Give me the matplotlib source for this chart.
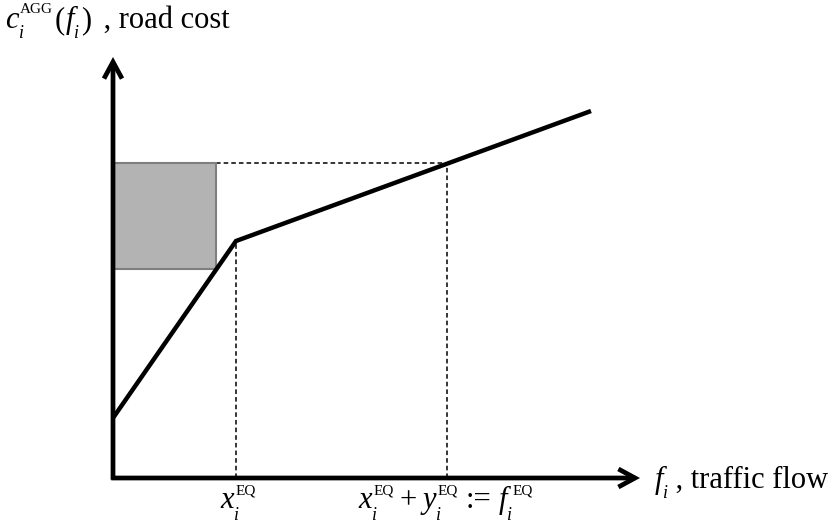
import matplotlib
matplotlib.use("Agg")
import matplotlib.pyplot as plt
from matplotlib.patches import Rectangle
from matplotlib.transforms import offset_copy

plt.rcParams["font.family"] = ["Liberation Serif", "DejaVu Serif"]

# -------------------------------------------------
# DATA (origin of the diagram at 0,0)
# -------------------------------------------------
cost_x = [0, 123, 478]
cost_y = [60, 237, 367]

x_eq = 123          # x_i^EQ
f_eq = 334          # x_i^EQ + y_i^EQ
c_eq = 237          # cost at the kink
c_f = 315           # cost at f_i^EQ

rect_x = [0, 103]
rect_y = [209, 315]

axis_x_end = 527
axis_y_end = 421

FS = 22     # main text size
SUP = 11    # superscript size
SUB = 13    # subscript size

# label pieces: (text, size, raise_pt, style, gap_pt, advance)
ylabel = [("c", FS, 0, "italic", 0, True),
          ("AGG", SUP, 11, "normal", 1, False),
          ("i", SUB, -7, "italic", 0, True),
          ("(", FS, 0, "normal", 1, True),
          ("f", FS, 0, "italic", 1, True),
          ("i", SUB, -7, "italic", 0, True),
          (")", FS, 0, "normal", 1, True),
          (" , road cost", FS, 0, "normal", 4, True)]

xlabel = [("f", FS, 0, "italic", 0, True),
          ("i", SUB, -7, "italic", 0, True),
          (" , traffic flow", FS, 0, "normal", 0, True)]

tick_x_eq = [("x", FS, 0, "italic", 0, True),
             ("EQ", SUP, 10, "normal", 1, False),
             ("i", SUB, -8.5, "italic", 0, True)]

tick_f_eq = [("x", FS, 0, "italic", 0, True),
             ("EQ", SUP, 10, "normal", 1, False),
             ("i", SUB, -8.5, "italic", 0, True),
             ("+", FS, 0, "normal", 4, True),
             ("y", FS, 0, "italic", 4, True),
             ("EQ", SUP, 10, "normal", 1, False),
             ("i", SUB, -8.5, "italic", 0, True),
             (":=", FS, 0, "normal", 6, True),
             ("f", FS, 0, "italic", 5, True),
             ("EQ", SUP, 10, "normal", 4, False),
             ("i", SUB, -8.5, "italic", 0, True)]


def place_label(ax, x, y, pieces, center=False):
    fig = ax.figure
    renderer = fig.canvas.get_renderer()
    items = []
    cursor = 0.0
    group_start = 0.0
    group_end = 0.0
    for s, size, dy, style, gap, adv in pieces:
        start = group_start + gap if group_end > group_start else cursor + gap
        if group_end <= group_start:
            group_start = cursor
        t = ax.text(x, y, s, fontsize=size, style=style, ha="left",
                    va="baseline", color="black")
        t.set_transform(offset_copy(ax.transData, fig=fig, x=start, y=dy,
                                    units="points"))
        w = t.get_window_extent(renderer).width * 72.0 / fig.dpi
        items.append((t, start, dy))
        group_end = max(group_end, start + w)
        if adv:
            cursor = group_end
            group_start = cursor
            group_end = cursor
        else:
            group_end = max(group_end, group_start + 1e-6)
    if center:
        shift = -cursor / 2.0
        for t, start, dy in items:
            t.set_transform(offset_copy(ax.transData, fig=fig, x=start + shift,
                                        y=dy, units="points"))


# -------------------------------------------------
# FIGURE
# -------------------------------------------------
fig = plt.figure(figsize=(8.29, 5.30), dpi=100)
ax = fig.add_axes([0, 0, 1, 1])
ax.set_xlim(-113, 716)
ax.set_ylim(-52, 478)
ax.axis("off")

# shaded box
ax.add_patch(Rectangle((rect_x[0], rect_y[0]), rect_x[1] - rect_x[0],
                       rect_y[1] - rect_y[0], facecolor="#b3b3b3",
                       edgecolor="#7f7f7f", linewidth=1.5, zorder=2))

# dashed helper lines
dash = dict(ls=(0, (3, 2)), color="black", lw=1.1, zorder=1)
ax.plot([rect_x[1], f_eq], [c_f, c_f], **dash)
ax.plot([f_eq, f_eq], [0, c_f], **dash)
ax.plot([x_eq, x_eq], [0, c_eq], **dash)

# cost curve
ax.plot(cost_x, cost_y, color="black", lw=3.2, solid_joinstyle="miter",
        solid_capstyle="butt", zorder=3)

# axes with arrows
arrow = dict(arrowstyle="->,head_length=1.2,head_width=0.65", lw=3.4,
             color="black", shrinkA=0, shrinkB=0, joinstyle="miter",
             capstyle="butt")
ax.annotate("", xy=(axis_x_end, 0), xytext=(-1.7, 0), arrowprops=arrow, zorder=4)
ax.annotate("", xy=(0, axis_y_end), xytext=(0, -1.7), arrowprops=arrow, zorder=4)

# labels
fig.canvas.draw()
place_label(ax, -108, 450, ylabel)
place_label(ax, 542, -10, xlabel)
place_label(ax, x_eq + 2, -30, tick_x_eq, center=True)
place_label(ax, f_eq - 1, -30, tick_f_eq, center=True)

plt.savefig("out.png", dpi=100)
plt.close()
